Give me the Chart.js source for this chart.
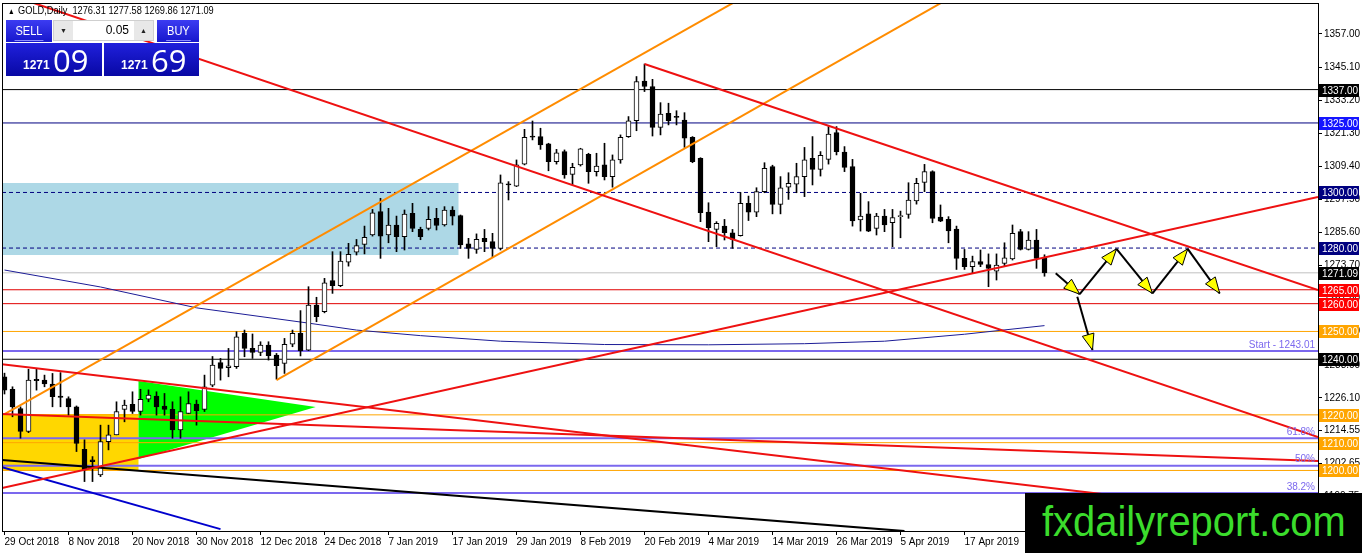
<!DOCTYPE html>
<html>
<head>
<meta charset="utf-8">
<title>GOLD, Daily</title>
<script src="https://cdn.jsdelivr.net/npm/chart.js@4.4.1/dist/chart.umd.min.js"></script>
<style>
  html, body { margin: 0; padding: 0; background: #fff; }
  #wrap { position: relative; width: 1362px; height: 553px; overflow: hidden; font-family: "Liberation Sans", Arial, sans-serif; }
  #goldChart { position: absolute; left: 0; top: 0; }
  .cond { display: inline-block; transform: scaleX(0.84); transform-origin: left center; white-space: nowrap; }
  #symbol { position: absolute; left: 8px; top: 4px; font-size: 11px; color: #000; }
  #symbol .tri { font-size: 8px; margin-right: 4px; }
  .btn { position: absolute; top: 20px; height: 22px; color: #fff; font-size: 13px; text-align: center; line-height: 21px;
         background: linear-gradient(#3c3cf2, #1717cc); }
  .btn span { display: inline-block; border-bottom: 1px solid #8d8dff; line-height: 19px; padding: 0 1px; transform: scaleX(0.85); }
  #sellBtn { left: 6px; width: 46px; }
  #buyBtn { left: 157px; width: 42px; }
  #lot { position: absolute; left: 53px; top: 20px; width: 99px; height: 19px; background: #fff; border: 1px solid #cfcfcf; }
  #lot .spin { position: absolute; top: 0; width: 19px; height: 19px; background: #e8e8e8; font-size: 7px; line-height: 19px; text-align: center; color: #222; }
  #lot .down { left: 0; } #lot .up { right: 0; }
  #lot .val { position: absolute; right: 24px; top: 0; line-height: 19px; font-size: 12px; color: #000; }
  .quote { position: absolute; top: 43px; height: 33px; color: #fff; background: linear-gradient(#2020dc, #0808a4); }
  #sellQuote { left: 6px; width: 96px; }
  #buyQuote { left: 104px; width: 95px; }
  .quote .small { position: absolute; left: 17px; top: 15px; font-size: 12px; font-weight: bold; }
  .quote .big { position: absolute; left: 47px; top: -4px; font-size: 31px; font-family: "Open Sans", "Liberation Sans", sans-serif; }
  #logo { position: absolute; left: 1025px; top: 493px; width: 337px; height: 60px; background: #000; color: #3bdc2c;
          font-size: 42px; line-height: 58px; text-align: center; }
  #logo span { display: inline-block; transform: scaleX(0.95); }
</style>
</head>
<body>
<div id="wrap">
  <canvas id="goldChart" width="1362" height="553"></canvas>
  <div id="symbol"><span class="cond"><span class="tri">▲</span>GOLD,Daily&nbsp; <span id="ohlc"></span></span></div>
  <div id="sellBtn" class="btn"><span>SELL</span></div>
  <div id="lot"><div class="spin down">▼</div><div class="val">0.05</div><div class="spin up">▲</div></div>
  <div id="buyBtn" class="btn"><span>BUY</span></div>
  <div id="sellQuote" class="quote"><span class="small" id="bidHead"></span><span class="big" id="bidTail"></span></div>
  <div id="buyQuote" class="quote"><span class="small" id="askHead"></span><span class="big" id="askTail"></span></div>
  <div id="logo"><span>fxdailyreport.com</span></div>
</div>
<script>
// daily candles, 29 Oct 2018 .. 26 Apr 2019 (bar index 0..130)
const opens = [1233.7, 1229.2, 1222.3, 1214.0, 1232.8, 1232.5, 1231.1, 1226.8, 1225.9, 1222.9,
  1207.6, 1203.8, 1198.4, 1210.4, 1212.8, 1222.0, 1223.8, 1221.2, 1225.6, 1226.8,
  1223.2, 1222.0, 1214.6, 1220.5, 1223.9, 1222.0, 1230.7, 1238.8, 1237.0, 1237.3,
  1249.3, 1243.9, 1242.5, 1245.1, 1241.5, 1238.5, 1245.4, 1249.3, 1243.3, 1259.5,
  1257.1, 1268.3, 1266.5, 1274.9, 1278.5, 1281.3, 1284.7, 1293.1, 1284.7, 1288.3,
  1284.1, 1292.5, 1286.7, 1287.1, 1290.7, 1288.3, 1293.7, 1291.7, 1281.5, 1279.5,
  1283.5, 1282.3, 1279.9, 1302.9, 1302.3, 1310.2, 1320.2, 1320.1, 1317.5, 1311.1,
  1314.7, 1306.5, 1309.9, 1313.7, 1307.5, 1309.9, 1305.7, 1311.7, 1320.1, 1325.8,
  1340.1, 1338.1, 1323.4, 1328.5, 1327.1, 1326.0, 1319.8, 1312.3, 1292.9, 1286.7,
  1287.9, 1285.5, 1284.5, 1296.1, 1292.9, 1300.3, 1309.3, 1295.7, 1301.9, 1303.0,
  1305.7, 1312.3, 1308.3, 1311.9, 1321.5, 1314.5, 1309.3, 1290.1, 1292.3, 1287.1,
  1291.5, 1289.1, 1291.3, 1292.1, 1297.0, 1303.6, 1307.5, 1291.1, 1290.3, 1286.8,
  1276.3, 1273.3, 1275.1, 1274.1, 1271.7, 1274.5, 1276.1, 1285.9, 1279.5, 1282.9,
  1276.31];
const highs = [1235.0, 1230.1, 1222.9, 1236.4, 1236.4, 1234.3, 1234.9, 1235.2, 1226.5, 1223.2,
  1211.0, 1205.0, 1216.3, 1216.3, 1224.7, 1225.3, 1228.3, 1229.2, 1229.0, 1228.3,
  1227.7, 1224.7, 1226.5, 1228.3, 1225.3, 1234.3, 1241.0, 1240.3, 1243.9, 1249.9,
  1250.5, 1249.1, 1246.3, 1246.3, 1242.1, 1247.5, 1250.5, 1257.5, 1266.1, 1262.3,
  1269.1, 1278.7, 1278.7, 1281.7, 1283.1, 1287.9, 1293.9, 1297.9, 1294.3, 1291.5,
  1293.7, 1296.1, 1287.5, 1294.9, 1294.3, 1294.9, 1294.9, 1291.9, 1283.5, 1285.1,
  1286.7, 1285.3, 1306.3, 1303.9, 1311.7, 1322.7, 1325.7, 1323.1, 1317.7, 1315.5,
  1315.3, 1310.5, 1315.9, 1314.1, 1314.1, 1317.7, 1313.5, 1320.7, 1327.3, 1341.7,
  1346.2, 1340.7, 1332.3, 1332.1, 1329.4, 1328.7, 1320.1, 1312.5, 1296.3, 1289.5,
  1290.3, 1286.7, 1300.0, 1298.7, 1301.7, 1310.7, 1309.8, 1305.7, 1307.1, 1310.5,
  1316.2, 1320.1, 1314.7, 1323.7, 1323.7, 1316.5, 1311.9, 1299.7, 1296.7, 1292.5,
  1293.9, 1293.9, 1293.3, 1303.5, 1305.1, 1310.1, 1307.8, 1295.5, 1291.3, 1287.9,
  1279.5, 1277.1, 1279.3, 1277.9, 1277.9, 1281.9, 1288.3, 1286.7, 1285.9, 1286.7,
  1277.58];
const lows = [1227.5, 1219.3, 1211.6, 1213.6, 1228.9, 1230.1, 1222.9, 1222.9, 1219.9, 1206.8,
  1196.0, 1196.0, 1197.8, 1207.4, 1212.8, 1217.5, 1220.5, 1219.9, 1224.7, 1219.9,
  1219.9, 1211.6, 1211.6, 1220.5, 1216.3, 1221.2, 1230.1, 1232.5, 1233.7, 1236.7,
  1240.9, 1240.3, 1241.3, 1239.7, 1232.8, 1234.9, 1244.5, 1241.2, 1243.1, 1253.5,
  1256.7, 1263.7, 1266.1, 1273.5, 1277.5, 1277.9, 1284.3, 1276.3, 1281.9, 1278.7,
  1279.3, 1285.9, 1283.0, 1286.5, 1286.5, 1287.9, 1288.3, 1279.9, 1276.3, 1278.1,
  1278.7, 1276.7, 1279.3, 1297.3, 1302.1, 1309.9, 1318.9, 1315.5, 1307.8, 1310.2,
  1305.1, 1302.7, 1309.5, 1303.3, 1305.9, 1304.5, 1301.9, 1310.5, 1319.8, 1322.2,
  1336.3, 1320.3, 1320.7, 1324.3, 1324.3, 1316.2, 1310.7, 1289.5, 1282.3, 1280.5,
  1282.9, 1279.9, 1284.3, 1289.9, 1291.3, 1299.9, 1292.3, 1292.3, 1297.5, 1299.9,
  1298.5, 1302.7, 1305.9, 1310.2, 1313.5, 1307.5, 1287.9, 1286.1, 1285.9, 1284.7,
  1285.9, 1280.5, 1283.7, 1290.7, 1295.8, 1300.3, 1289.1, 1289.5, 1281.9, 1272.3,
  1272.3, 1271.1, 1273.3, 1266.1, 1268.5, 1273.3, 1275.7, 1279.3, 1279.3, 1272.7,
  1269.86];
const closes = [1228.9, 1222.9, 1214.0, 1232.5, 1232.3, 1231.1, 1226.5, 1226.3, 1222.9, 1209.7,
  1200.2, 1203.2, 1210.4, 1212.8, 1221.2, 1223.5, 1221.2, 1225.6, 1227.1, 1222.9,
  1222.0, 1214.6, 1221.2, 1224.1, 1221.5, 1230.1, 1237.9, 1236.7, 1237.6, 1248.1,
  1243.9, 1242.5, 1245.1, 1241.3, 1237.7, 1245.4, 1249.3, 1243.1, 1259.5, 1255.3,
  1267.5, 1266.5, 1275.3, 1277.7, 1280.9, 1283.9, 1292.7, 1284.3, 1288.3, 1284.1,
  1292.2, 1287.1, 1284.1, 1290.3, 1288.1, 1293.7, 1291.5, 1281.1, 1279.9, 1283.1,
  1282.3, 1279.9, 1303.5, 1302.7, 1309.9, 1319.8, 1319.9, 1317.1, 1311.1, 1314.3,
  1306.3, 1309.0, 1315.7, 1307.5, 1309.5, 1305.7, 1311.7, 1319.8, 1325.8, 1339.9,
  1338.1, 1323.4, 1328.2, 1325.8, 1327.0, 1319.5, 1311.1, 1292.7, 1287.3, 1288.9,
  1285.5, 1283.1, 1296.1, 1292.9, 1300.3, 1308.7, 1295.7, 1301.7, 1303.3, 1305.7,
  1311.7, 1308.3, 1313.4, 1321.0, 1314.7, 1309.0, 1289.8, 1291.5, 1286.1, 1291.5,
  1288.3, 1291.0, 1291.5, 1297.3, 1303.3, 1307.5, 1290.7, 1289.7, 1286.2, 1276.3,
  1273.3, 1275.1, 1274.1, 1272.7, 1273.9, 1276.5, 1285.3, 1279.5, 1282.9, 1276.3,
  1271.09];
const askPrice = 1271.69;

// axis labels
const dateTickBars = [0, 8, 16, 24, 32, 40, 48, 56, 64, 72, 80, 88, 96, 104, 112, 120];
const dateLabels = ["29 Oct 2018", "8 Nov 2018", "20 Nov 2018", "30 Nov 2018", "12 Dec 2018", "24 Dec 2018",
  "7 Jan 2019", "17 Jan 2019", "29 Jan 2019", "8 Feb 2019", "20 Feb 2019", "4 Mar 2019",
  "14 Mar 2019", "26 Mar 2019", "5 Apr 2019", "17 Apr 2019"];
const priceTicks = [1357.00, 1345.10, 1333.20, 1321.30, 1309.40, 1297.50, 1285.60, 1273.70,
  1261.80, 1249.90, 1238.00, 1226.10, 1214.55, 1202.65, 1190.75];

// horizontal levels drawn on the chart
const levelPrices = [1337.00, 1325.00, 1300.00, 1280.00, 1271.09, 1265.00, 1260.00, 1250.00, 1240.00, 1220.00, 1210.00, 1200.00];
const fibPrices = [1243.01, 1211.6, 1201.7, 1191.9];
const fibNames = ["Start - 1243.01", "61.8%", "50%", "38.2%"];

// moving average, read at a few bars: [bar, price]
const maPoints = [[0, 1272.1], [12, 1266.0], [24, 1258.5], [38, 1253.0], [44, 1250.5], [52, 1248.5],
  [62, 1246.5], [75, 1245.3], [88, 1245.2], [100, 1245.6], [110, 1246.5], [120, 1249.0], [130, 1252.1]];

// trend lines: [bar, price] end points
const redChannelLow = [[2.56, 1369.2], [164.19, 1212.0]];
const redChannelHigh = [[80, 1346.2], [164.19, 1264.9]];
const redRising = [[-0.31, 1193.7], [164.19, 1298.4]];
const redFalling = [[-0.31, 1238.2], [164.19, 1182.4]];
const redFlat = [[-0.31, 1220.3], [164.19, 1203.4]];
const blackFalling = [[-0.31, 1203.8], [112.5, 1178.2]];
const blueFalling = [[-0.31, 1201.2], [27, 1178.9]];
const orangeUpper = [[0, 1220.3], [91.7, 1369.2]];
const orangeLower = [[34, 1232.5], [117.7, 1369.2]];

// zones
const blueZone = [[-0.31, 1303.4], [56.75, 1277.5]];
const goldZone = [[-0.31, 1220.3], [16.75, 1200.0]];
const greenWedge = [[16.75, 1232.2], [38.9, 1222.8], [16.75, 1204.1]];

// projected path arrows
const arrowFrom = [[131.4, 1270.9], [134.4, 1263.4], [139.0, 1279.7], [143.5, 1263.7], [147.9, 1279.7], [134.1, 1262.5]];
const arrowTo = [[134.4, 1263.4], [139.0, 1279.7], [143.5, 1263.7], [147.9, 1279.7], [151.9, 1263.7], [136.0, 1243.3]];

// ---- view ----
const xMin = -0.3125, xMax = 164.1875;
const yMax = 1368.151, yMin = 1178.223;
const axisFont = { family: "'Liberation Sans', Arial, sans-serif", size: 10 };

const levelStyles = [
  { line: "#000000", box: "#000000" },
  { line: "#000080", box: "#1515ff" },
  { line: "#000080", box: "#000080", dash: [4, 3] },
  { line: "#000080", box: "#000080", dash: [4, 3] },
  { line: "#c0c0c0", box: "#000000" },
  { line: "#e00000", box: "#ff0000" },
  { line: "#e00000", box: "#ff0000" },
  { line: "#ffa500", box: "#ffa500" },
  { line: "#000000", box: "#000000" },
  { line: "#ffa500", box: "#ffa500" },
  { line: "#ffa500", box: "#ffa500" },
  { line: "#ffa500", box: "#ffa500" }
];
const fibColor = "#7b68ee";

document.getElementById("ohlc").textContent =
  [opens, highs, lows, closes].map(a => a[a.length - 1].toFixed(2)).join(" ");
const bidText = closes[closes.length - 1].toFixed(2);
const askText = askPrice.toFixed(2);
document.getElementById("bidHead").textContent = bidText.slice(0, 4);
document.getElementById("bidTail").textContent = bidText.slice(5);
document.getElementById("askHead").textContent = askText.slice(0, 4);
document.getElementById("askTail").textContent = askText.slice(5);

const bars = opens.map((_, i) => i);

function lineSet(points, color, width, order, dash) {
  return {
    type: "line",
    data: points.map(p => ({ x: p[0], y: p[1] })),
    borderColor: color,
    borderWidth: width,
    borderDash: dash || [],
    pointRadius: 0,
    tension: 0,
    fill: false,
    order: order
  };
}

const datasets = [];
levelPrices.forEach((p, i) => {
  datasets.push(lineSet([[xMin, p], [xMax, p]], levelStyles[i].line, 1, 10, levelStyles[i].dash));
});
fibPrices.forEach(p => datasets.push(lineSet([[xMin, p], [xMax, p]], fibColor, 2, 10)));
datasets.push(lineSet(maPoints, "#1c1c96", 1, 9));

datasets.push({
  type: "bar",
  data: bars.map(i => ({ x: i, y: [lows[i], highs[i]] })),
  backgroundColor: "#000",
  borderWidth: 0,
  barThickness: 1,
  grouped: false,
  order: 4
});
datasets.push({
  type: "bar",
  data: bars.map(i => ({ x: i, y: [opens[i], closes[i]] })),
  backgroundColor: bars.map(i => closes[i] >= opens[i] ? "#fff" : "#000"),
  borderColor: "#000",
  borderWidth: 1,
  borderSkipped: false,
  barThickness: 5,
  minBarLength: 1,
  grouped: false,
  order: 3
});

[redChannelLow, redChannelHigh, redRising, redFalling, redFlat].forEach(l => datasets.push(lineSet(l, "#ee1111", 2, 1)));
datasets.push(lineSet(blackFalling, "#000000", 2, 1));
datasets.push(lineSet(blueFalling, "#0000cd", 2, 1));
datasets.push(lineSet(orangeUpper, "#ff8c00", 2, 1));
datasets.push(lineSet(orangeLower, "#ff8c00", 2, 1));
arrowFrom.forEach((a, i) => datasets.push(lineSet([a, arrowTo[i]], "#000000", 2, 0)));

const zonesPlugin = {
  id: "zones",
  beforeDatasetsDraw(chart) {
    const { ctx, chartArea: a, scales: { x, y } } = chart;
    ctx.save();
    ctx.beginPath();
    ctx.rect(a.left, a.top, a.right - a.left, a.bottom - a.top);
    ctx.clip();
    [[blueZone, "#add8e6"], [goldZone, "#ffd700"]].forEach(([z, c]) => {
      const x0 = x.getPixelForValue(z[0][0]), x1 = x.getPixelForValue(z[1][0]);
      const y0 = y.getPixelForValue(z[0][1]), y1 = y.getPixelForValue(z[1][1]);
      ctx.fillStyle = c;
      ctx.fillRect(x0, y0, x1 - x0, y1 - y0);
    });
    ctx.fillStyle = "#00ff00";
    ctx.beginPath();
    greenWedge.forEach((p, i) => {
      const px = x.getPixelForValue(p[0]), py = y.getPixelForValue(p[1]);
      if (i === 0) ctx.moveTo(px, py); else ctx.lineTo(px, py);
    });
    ctx.closePath();
    ctx.fill();
    ctx.restore();
  }
};

const arrowPlugin = {
  id: "arrowHeads",
  afterDatasetsDraw(chart) {
    const { ctx, scales: { x, y } } = chart;
    ctx.save();
    arrowTo.forEach((t, i) => {
      const f = arrowFrom[i];
      const tx = x.getPixelForValue(t[0]), ty = y.getPixelForValue(t[1]);
      const fx = x.getPixelForValue(f[0]), fy = y.getPixelForValue(f[1]);
      const len = Math.hypot(tx - fx, ty - fy);
      const dx = (tx - fx) / len, dy = (ty - fy) / len;
      const bx = tx - dx * 16, by = ty - dy * 16;
      ctx.beginPath();
      ctx.moveTo(tx, ty);
      ctx.lineTo(bx - dy * 6, by + dx * 6);
      ctx.lineTo(bx + dy * 6, by - dx * 6);
      ctx.closePath();
      ctx.fillStyle = "#ffff00";
      ctx.fill();
      ctx.strokeStyle = "#000";
      ctx.lineWidth = 1;
      ctx.stroke();
    });
    ctx.restore();
  }
};

const framePlugin = {
  id: "frameAndLabels",
  afterDraw(chart) {
    const { ctx, chartArea: a, scales: { y } } = chart;
    ctx.save();
    ctx.strokeStyle = "#000";
    ctx.lineWidth = 1;
    ctx.strokeRect(a.left + 0.5, a.top + 0.5, a.right - a.left, a.bottom - a.top);

    ctx.font = "10px " + axisFont.family;
    ctx.textBaseline = "middle";
    levelPrices.forEach((p, i) => {
      const py = Math.round(y.getPixelForValue(p));
      ctx.fillStyle = levelStyles[i].box;
      ctx.fillRect(a.right + 1, py - 6, 40, 13);
      ctx.fillStyle = "#fff";
      ctx.textAlign = "left";
      ctx.fillText(p.toFixed(2), a.right + 4, py + 1);
    });

    ctx.fillStyle = fibColor;
    ctx.textAlign = "right";
    ctx.textBaseline = "bottom";
    fibPrices.forEach((p, i) => {
      ctx.fillText(fibNames[i], a.right - 3, y.getPixelForValue(p) - 1);
    });
    ctx.restore();
  }
};

new Chart(document.getElementById("goldChart"), {
  type: "bar",
  data: { datasets: datasets },
  options: {
    responsive: false,
    animation: false,
    events: [],
    layout: { padding: { left: 2, top: 3, right: 0, bottom: 0 } },
    plugins: { legend: { display: false }, tooltip: { enabled: false } },
    scales: {
      x: {
        type: "linear",
        min: xMin,
        max: xMax,
        offset: false,
        grid: { display: true, offset: false, drawOnChartArea: false, drawTicks: true, tickLength: 4, color: "#000" },
        border: { display: false },
        ticks: {
          align: "start",
          autoSkip: false,
          maxRotation: 0,
          padding: 1,
          color: "#000",
          font: axisFont,
          callback: v => dateLabels[dateTickBars.indexOf(v)]
        },
        afterBuildTicks: s => { s.ticks = dateTickBars.map(v => ({ value: v })); },
        afterFit: s => { s.height = 22; s.paddingLeft = 0; s.paddingRight = 0; }
      },
      y: {
        type: "linear",
        position: "right",
        min: yMin,
        max: yMax,
        bounds: "data",
        grid: { display: true, offset: false, drawOnChartArea: false, drawTicks: true, tickLength: 4, color: "#000" },
        border: { display: false },
        ticks: {
          autoSkip: false,
          padding: 2,
          color: "#000",
          font: axisFont,
          callback: v => v.toFixed(2)
        },
        afterBuildTicks: s => { s.ticks = priceTicks.map(v => ({ value: v })); },
        afterFit: s => { s.width = 44; s.paddingTop = 0; s.paddingBottom = 0; }
      }
    }
  },
  plugins: [zonesPlugin, arrowPlugin, framePlugin]
});
</script>
</body>
</html>
